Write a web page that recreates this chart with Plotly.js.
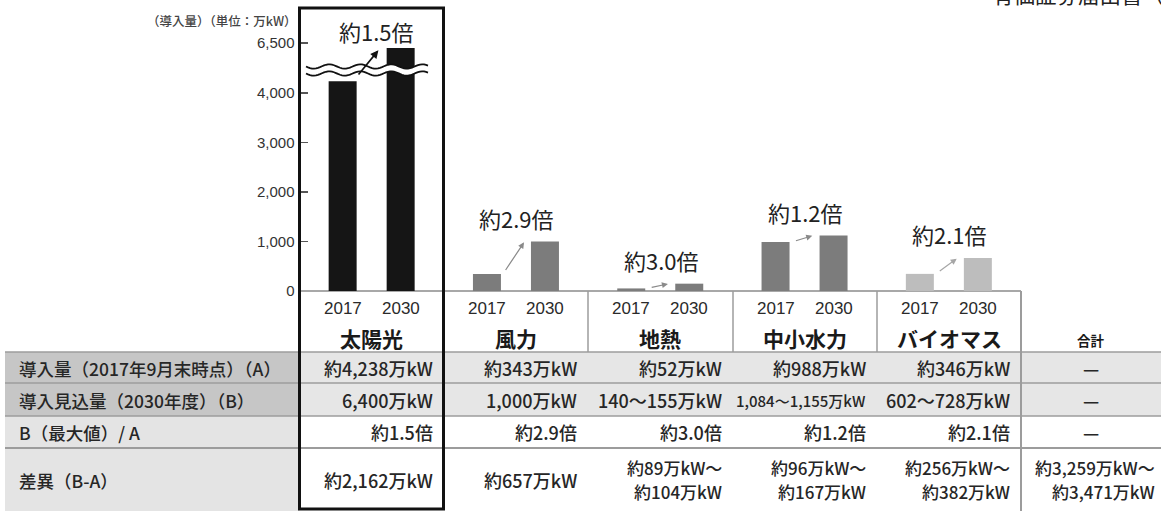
<!DOCTYPE html>
<html>
<head>
<meta charset="utf-8">
<script src="https://cdn.plot.ly/plotly-3.0.1.min.js"></script>
<style>
  html, body { margin: 0; padding: 0; background: #fff; }
  #chart { width: 1161px; height: 511px; }
</style>
</head>
<body>
<div id="chart"></div>
<script>
// ---- data ----
const categories = ['太陽光', '風力', '地熱', '中小水力', 'バイオマス'];
const years = ['2017', '2030'];
const installed2017 = [4238, 343, 52, 988, 346];
const expected2030 = [6400, 1000, 148, 1120, 665];
const ratioLabels = ['約1.5倍', '約2.9倍', '約3.0倍', '約1.2倍', '約2.1倍'];
const barColors = ['#151515', '#7c7c7c', '#7c7c7c', '#7c7c7c', '#bdbdbd'];
const arrowColors = ['#111111', '#8a8a8a', '#8a8a8a', '#8a8a8a', '#a6a6a6'];
const lowerTicks = [0, 1000, 2000, 3000, 4000];
const upperTicks = [6500];
const axisTitle = '（導入量）（単位：万kW）';

const totalHeader = '合計';
const rowLabels = ['導入量（2017年9月末時点）（A）', '導入見込量（2030年度）（B）', 'B（最大値）/ A', '差異（B-A）'];
const rowA = ['約4,238万kW', '約343万kW', '約52万kW', '約988万kW', '約346万kW', '—'];
const rowB = ['6,400万kW', '1,000万kW', '140～155万kW', '1,084～1,155万kW', '602～728万kW', '—'];
const rowR = ['約1.5倍', '約2.9倍', '約3.0倍', '約1.2倍', '約2.1倍', '—'];
const rowDLow = ['約2,162万kW', '約657万kW', '約89万kW～', '約96万kW～', '約256万kW～', '約3,259万kW～'];
const rowDHigh = [null, null, '約104万kW', '約167万kW', '約382万kW', '約3,471万kW'];
const topNote = '有価証券届出書（参照方式）';

// ---- page geometry (pixels) ----
const W = 1161, H = 511;
const px = x => x / W;
const py = y => 1 - y / H;
const JP = '"Noto Sans CJK JP", "Noto Sans", sans-serif';
const LAT = '"Liberation Sans", Arial, sans-serif';

const plotLeft = 299.5, plotRight = 1021;
const baseY = 291, breakY = 70, topY = 8, tickTopY = 43;
const pxPerUnit = 0.0495;                        // vertical pixels per 万kW
const lowerMax = (baseY - breakY) / pxPerUnit;
const upperMin = 6500 - (breakY - tickTopY) / pxPerUnit;
const upperMax = 6500 + (tickTopY - topY) / pxPerUnit;

const colEdges = [299.5, 444, 588, 733, 877, 1021, 1161];
const rowLines = [352, 383, 416, 448];
const rowCenters = [368, 400, 432, 480];
const lastRowLines = [467, 491];

const barWidth = 0.194, barShift = 0.201;
const idx = categories.map((_, i) => i);

// ---- bars (drawn on both halves of the broken axis) ----
function barTrace(vals, shift, yaxis) {
  return {
    type: 'bar', x: idx, y: vals, xaxis: 'x', yaxis: yaxis,
    width: barWidth, offset: shift - barWidth / 2,
    marker: { color: barColors, line: { width: 0 } },
    hoverinfo: 'skip', showlegend: false
  };
}
const traces = [
  barTrace(installed2017, -barShift, 'y'),
  barTrace(expected2030, barShift, 'y'),
  barTrace(installed2017, -barShift, 'y2'),
  barTrace(expected2030, barShift, 'y2')
];

// ---- annotations ----
const cellFont = { family: JP, size: 18, color: '#262626', weight: 500 };
const annotations = [];
function paperText(text, x, y, opts) {
  annotations.push(Object.assign({
    text, x: px(x), y: py(y), xref: 'paper', yref: 'paper', showarrow: false,
    xanchor: 'center', yanchor: 'middle', font: cellFont
  }, opts || {}));
}

paperText(axisTitle, 299, 20, { xanchor: 'right', font: { family: JP, size: 12.5, color: '#444', weight: 500 } });
paperText(topNote, 990, -6, { xanchor: 'left', font: { family: JP, size: 21.5, color: '#222' } });

// ratio labels and arrows above each pair of bars
idx.forEach(i => {
  const upper = i === 0;
  annotations.push({
    text: ratioLabels[i], x: i, y: expected2030[i], xref: 'x', yref: upper ? 'y2' : 'y',
    showarrow: false, xanchor: 'center', yanchor: 'middle', yshift: upper ? 17 : 24,
    xshift: upper ? 5 : 1,
    font: { family: JP, size: 22, color: '#222' }
  });
  if (upper) {
    annotations.push({
      text: '', x: i + 0.06, y: expected2030[i], xref: 'x', yref: 'y2',
      ax: -23, ay: 28, axref: 'pixel', ayref: 'pixel', showarrow: true,
      arrowhead: 2, arrowsize: 1, arrowwidth: 1.6, arrowcolor: arrowColors[i], standoff: 3
    });
  } else {
    annotations.push({
      text: '', x: i + 0.06, y: expected2030[i], xref: 'x', yref: 'y',
      ax: i - 0.09, ay: installed2017[i], axref: 'x', ayref: 'y', showarrow: true,
      arrowhead: 2, arrowsize: 1, arrowwidth: 1.2, arrowcolor: arrowColors[i],
      standoff: 1, startstandoff: 3
    });
  }
  // header row: years under each bar, category name below
  years.forEach((yr, k) => {
    annotations.push({
      text: yr, x: i + (k === 0 ? -barShift : barShift), xref: 'x', y: py(308), yref: 'paper',
      showarrow: false, xanchor: 'center', yanchor: 'middle',
      font: { family: LAT, size: 17, color: '#2a2a2a' }
    });
  });
  paperText('<b>' + categories[i] + '</b>', (colEdges[i] + colEdges[i + 1]) / 2, 338,
    { font: { family: JP, size: 21, color: '#1a1a1a' } });
});
paperText('<b>' + totalHeader + '</b>', (colEdges[5] + colEdges[6]) / 2, 340,
  { font: { family: JP, size: 13.5, color: '#1a1a1a' } });

// table body
rowLabels.forEach((lab, r) => paperText(lab, 17, rowCenters[r], {
  xanchor: 'left', font: Object.assign({}, cellFont, { size: 17.5 })
}));
function cell(val, c, y, size) {
  if (c === 5 && val === '—') {
    paperText(val, (colEdges[5] + colEdges[6]) / 2, y);
  } else {
    const right = c === 5 ? W - 4 : colEdges[c + 1] - 9;
    paperText(val, right, y, { xanchor: 'right', font: Object.assign({}, cellFont, { size }) });
  }
}
[rowA, rowB, rowR].forEach((row, r) => {
  row.forEach((val, c) => cell(val, c, rowCenters[r], (r === 1 && c === 3) ? 15 : 18));
});
rowDLow.forEach((val, c) => {
  if (rowDHigh[c] === null) {
    cell(val, c, rowCenters[3], 18);
  } else {
    cell(val, c, lastRowLines[0], 17);
    cell(rowDHigh[c], c, lastRowLines[1], 17);
  }
});

// ---- shapes ----
const shapes = [];
function rect(x0, y0, x1, y1, fill) {
  shapes.push({ type: 'rect', xref: 'paper', yref: 'paper',
    x0: px(x0), x1: px(x1), y0: py(y1), y1: py(y0),
    fillcolor: fill, line: { width: 0 }, layer: 'below' });
}
function line(x0, y0, x1, y1, color, width) {
  shapes.push({ type: 'line', xref: 'paper', yref: 'paper',
    x0: px(x0), x1: px(x1), y0: py(y0), y1: py(y1),
    line: { color, width }, layer: 'above' });
}

rect(5, rowLines[0], 299.5, rowLines[2], '#c6c6c6');
rect(5, rowLines[2], 299.5, H, '#e4e4e4');
rect(299.5, rowLines[0], W, rowLines[2], '#e6e6e6');
rowLines.forEach((y, r) => line(5, y, W, y, '#9c9c9c', r === 3 ? 2.2 : 1.5));
[2, 3, 4].forEach(c => line(colEdges[c], baseY, colEdges[c], rowLines[0], '#9c9c9c', 1.5));
line(colEdges[5], baseY, colEdges[5], H, '#9c9c9c', 2);

// axis break: white band with two wavy strokes across the solar bars
function wave(yc, x0, x1) {
  const pts = [];
  for (let x = x0; x <= x1; x += 2) pts.push([x, yc + 2.2 * Math.sin(2 * Math.PI * (x - x0) / 31)]);
  return pts;
}
const waveTop = wave(66.5, 306, 428), waveBot = wave(73.5, 306, 428);
const fmt = p => px(p[0]).toFixed(5) + ',' + py(p[1]).toFixed(5);
const toPath = pts => pts.map((p, k) => (k ? 'L' : 'M') + fmt(p)).join(' ');
const band = toPath(waveTop) + ' ' + waveBot.slice().reverse().map(p => 'L' + fmt(p)).join(' ') + ' Z';
shapes.push({ type: 'path', xref: 'paper', yref: 'paper', path: band, fillcolor: '#ffffff', line: { width: 0 }, layer: 'above' });
shapes.push({ type: 'path', xref: 'paper', yref: 'paper', path: toPath(waveTop), line: { color: '#111', width: 1.8 }, layer: 'above' });
shapes.push({ type: 'path', xref: 'paper', yref: 'paper', path: toPath(waveBot), line: { color: '#111', width: 1.8 }, layer: 'above' });

// frame around the solar column
shapes.push({ type: 'rect', xref: 'paper', yref: 'paper',
  x0: px(299.5), x1: px(443.5), y0: py(509), y1: py(topY),
  line: { color: '#111', width: 3 }, fillcolor: 'rgba(0,0,0,0)', layer: 'above' });

// ---- layout ----
const tickStyle = {
  ticks: 'inside', ticklen: 8, tickwidth: 1.5, tickcolor: '#555', ticklabelstandoff: 4,
  tickfont: { family: LAT, size: 15, color: '#333' }, tickformat: ',d',
  showgrid: false, showline: false, fixedrange: true
};
const layout = {
  width: W, height: H,
  margin: { l: 0, r: 0, t: 0, b: 0, pad: 0 },
  paper_bgcolor: '#ffffff', plot_bgcolor: 'rgba(0,0,0,0)',
  showlegend: false, barmode: 'overlay',
  xaxis: { domain: [px(plotLeft), px(plotRight)], range: [-0.5, 4.5], visible: false, fixedrange: true },
  yaxis: Object.assign({}, tickStyle, {
    domain: [py(baseY), py(breakY)], range: [0, lowerMax], tickvals: lowerTicks,
    zeroline: true, zerolinecolor: '#a8a8a8', zerolinewidth: 2, anchor: 'x'
  }),
  yaxis2: Object.assign({}, tickStyle, {
    domain: [py(breakY), py(topY)], range: [upperMin, upperMax], tickvals: upperTicks,
    zeroline: false, anchor: 'x'
  }),
  annotations, shapes
};

Plotly.newPlot('chart', traces, layout, { staticPlot: true, displayModeBar: false });
</script>
</body>
</html>
